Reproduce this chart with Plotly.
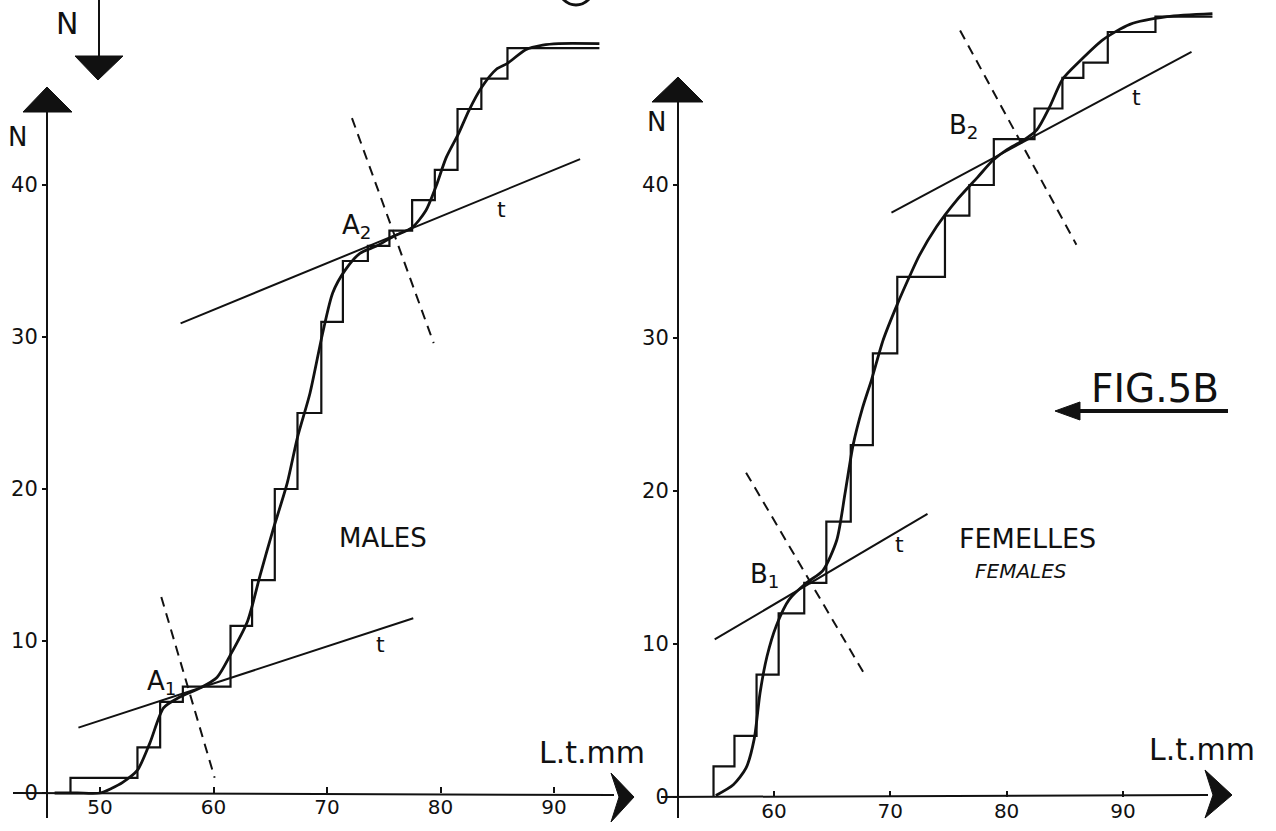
import plotly.graph_objects as go

# ---------------- data ----------------
# MALES: cumulative counts (step), x = total length (mm) where the count jumps
MALE_STEP_X = [47.4, 53.3, 55.3, 57.3, 61.5, 63.4, 65.4, 67.4, 69.5, 71.4, 73.6, 75.5, 77.5, 79.5, 81.5, 83.6, 85.9, 94.0]
MALE_STEP_N = [1, 3, 6, 7, 11, 14, 20, 25, 31, 35, 36, 37, 39, 41, 45, 47, 49, 49]
# MALES: fitted smooth curve
MALE_CURVE_X = [46.0, 48.0, 50.0, 51.0, 52.0, 53.3, 54.4, 55.6, 57.0, 58.8, 60.3, 61.5, 63.0, 64.1, 65.2, 66.5, 67.4,
                68.5, 69.6, 70.5, 71.6, 72.9, 74.4, 75.8, 77.5, 78.7, 79.6, 80.5, 81.6, 82.5, 83.6, 84.9, 85.9, 87.5,
                89.0, 90.4, 94.0]
MALE_CURVE_N = [0, 0, 0, 0.3, 0.7, 1.5, 3.3, 5.6, 6.3, 6.9, 7.6, 9.1, 11.3, 14.3, 17.2, 20.4, 23.4,
                26.3, 30.2, 32.9, 34.4, 35.5, 36.0, 36.6, 37.2, 38.3, 39.9, 41.8, 43.4, 44.9, 46.4, 47.6, 48.0, 48.9,
                49.2, 49.3, 49.3]
# MALES: tangents (t) and perpendiculars (dashed) at A1 and A2
TAN_A1_X, TAN_A1_N = [48.1, 77.6], [4.3, 11.5]
PERP_A1_X, PERP_A1_N = [55.4, 60.1], [12.9, 1.0]
TAN_A2_X, TAN_A2_N = [57.1, 92.3], [30.9, 41.7]
PERP_A2_X, PERP_A2_N = [72.2, 79.4], [44.4, 29.6]

# FEMELLES: cumulative counts (step)
FEMALE_STEP_X = [54.8, 56.6, 58.5, 60.4, 62.6, 64.5, 66.6, 68.5, 70.6, 74.7, 76.8, 78.9, 82.4, 84.8, 86.6, 88.7, 92.8, 97.7]
FEMALE_STEP_N = [2, 4, 8, 12, 14, 18, 23, 29, 34, 38, 40, 43, 45, 47, 48, 50, 51, 51]
# FEMELLES: fitted smooth curve
FEMALE_CURVE_X = [55.0, 56.5, 57.6, 58.3, 58.8, 59.4, 60.2, 61.3, 62.8, 64.2, 65.4, 66.1, 66.8, 67.6, 68.4, 69.4,
                  70.6, 71.7, 72.5, 74.0, 75.7, 77.5, 78.8, 80.0, 81.4, 82.6, 83.7, 84.8, 86.3, 88.3, 90.6, 93.8, 97.7]
FEMALE_CURVE_N = [0.1, 0.8, 1.9, 3.8, 6.8, 9.2, 11.2, 12.9, 14.0, 14.8, 16.8, 19.8, 23.0, 25.4, 27.3, 29.9,
                  32.2, 34.1, 35.4, 37.3, 39.0, 40.5, 41.6, 42.3, 42.9, 43.6, 45.1, 46.9, 48.1, 49.5, 50.5, 51.0, 51.2]
TAN_B1_X, TAN_B1_N = [54.9, 73.2], [10.3, 18.5]
PERP_B1_X, PERP_B1_N = [57.6, 67.8], [21.2, 8.0]
TAN_B2_X, TAN_B2_N = [70.1, 95.9], [38.2, 48.7]
PERP_B2_X, PERP_B2_N = [76.0, 86.0], [50.1, 36.1]

# axis ticks
X_TICKS_LEFT = [50, 60, 70, 80, 90]
X_TICKS_RIGHT = [60, 70, 80, 90]
Y_TICKS = [0, 10, 20, 30, 40]

# point labels (label, x, N)
LABELS_LEFT = [("A<sub>1</sub>", 55.4, 7.3), ("A<sub>2</sub>", 72.6, 37.3), ("t", 74.7, 9.8), ("t", 85.4, 38.4)]
LABELS_RIGHT = [("B<sub>1</sub>", 59.2, 14.5), ("B<sub>2</sub>", 76.3, 43.8), ("t", 70.8, 16.5), ("t", 91.2, 45.7)]

# ---------------- layout geometry (pixels of the 1276x831 page) ----------------
W, H = 1276, 831
# left panel calibration: px = LX0 + (mm-50)*LSX ; py = LY0 - N*LSY
LX0, LSX, LY0, LSY = 100.0, 11.35, 793.0, 15.2
# right panel calibration: px = RX0 + (mm-60)*RSX ; py = RY0 - N*RSY
RX0, RSX, RY0, RSY = 774.0, 11.63, 797.0, 15.3
SPLIT = 640.0

def P(x, y):
    return x / W, 1 - y / H

BLACK = "#111111"
FONT = "DejaVu Sans"

fig = go.Figure()

def add_panel(xa, ya, sx, sn, cx, cn, lines):
    fig.add_trace(go.Scatter(x=[sx[0]] + sx, y=[0] + sn, mode="lines", line=dict(color=BLACK, width=2.2, shape="hv"),
                             xaxis=xa, yaxis=ya, hoverinfo="skip"))
    fig.add_trace(go.Scatter(x=cx, y=cn, mode="lines", line=dict(color=BLACK, width=2.8, shape="spline", smoothing=0.7),
                             xaxis=xa, yaxis=ya, hoverinfo="skip"))
    for (lx, ly, dashed) in lines:
        fig.add_trace(go.Scatter(x=lx, y=ly, mode="lines",
                                 line=dict(color=BLACK, width=2, dash="10px,7px" if dashed else "solid"),
                                 xaxis=xa, yaxis=ya, hoverinfo="skip"))

add_panel("x", "y", MALE_STEP_X, MALE_STEP_N, MALE_CURVE_X, MALE_CURVE_N,
          [(TAN_A1_X, TAN_A1_N, False), (PERP_A1_X, PERP_A1_N, True),
           (TAN_A2_X, TAN_A2_N, False), (PERP_A2_X, PERP_A2_N, True)])
add_panel("x2", "y2", FEMALE_STEP_X, FEMALE_STEP_N, FEMALE_CURVE_X, FEMALE_CURVE_N,
          [(TAN_B1_X, TAN_B1_N, False), (PERP_B1_X, PERP_B1_N, True),
           (TAN_B2_X, TAN_B2_N, False), (PERP_B2_X, PERP_B2_N, True)])

tickfont = dict(family=FONT, size=21, color=BLACK)
common_x = dict(showgrid=False, zeroline=False, showline=False, ticks="inside", ticklen=6, tickwidth=2,
                tickcolor=BLACK, tickfont=dict(family=FONT, size=20, color=BLACK), anchor="free",
                fixedrange=True, automargin=False)
common_y = dict(showgrid=False, zeroline=False, showline=False, ticks="outside", ticklen=5, tickwidth=2,
                tickcolor=BLACK, tickfont=tickfont, anchor="free", tickvals=Y_TICKS, fixedrange=True,
                automargin=False)

fig.update_layout(
    template="none",
    width=W, height=H, margin=dict(l=0, r=0, t=0, b=0, pad=0), autosize=False,
    paper_bgcolor="white", plot_bgcolor="white", showlegend=False,
    xaxis=dict(domain=[0, SPLIT / W], range=[50 - LX0 / LSX, 50 + (SPLIT - LX0) / LSX],
               tickvals=X_TICKS_LEFT, position=1 - LY0 / H, **common_x),
    yaxis=dict(domain=[0, 1], range=[-(H - LY0) / LSY, LY0 / LSY], position=47 / W, **common_y),
    xaxis2=dict(domain=[SPLIT / W, 1], range=[60 - (RX0 - SPLIT) / RSX, 60 + (W - RX0) / RSX],
                tickvals=X_TICKS_RIGHT, position=1 - RY0 / H, **common_x),
    yaxis2=dict(domain=[0, 1], range=[-(H - RY0) / RSY, RY0 / RSY], position=678 / W, **common_y),
)

# ---------------- axis lines and arrowheads (page decorations) ----------------
shapes = []

def seg(x0, y0, x1, y1, w=2):
    a, b = P(x0, y0)
    c, d = P(x1, y1)
    shapes.append(dict(type="line", xref="paper", yref="paper", x0=a, y0=b, x1=c, y1=d,
                       line=dict(color=BLACK, width=w)))

def poly(pts):
    path = "M " + " L ".join("%.5f,%.5f" % P(x, y) for x, y in pts) + " Z"
    shapes.append(dict(type="path", xref="paper", yref="paper", path=path,
                       fillcolor=BLACK, line=dict(color=BLACK, width=1)))

# left axes
seg(13, 793, 614, 795)
seg(47, 112, 47, 818)
# right axes
seg(661, 797, 1208, 795)
seg(678, 102, 678, 818)
# arrowheads
poly([(23, 112), (47, 87), (72, 112)])
poly([(652, 102), (678, 77), (703, 102)])
poly([(611, 773), (634, 797), (611, 822), (619, 797)])
poly([(1205, 770), (1232, 795), (1205, 818), (1213, 795)])
# top-left down arrow
seg(99, 0, 99, 57)
poly([(75, 56), (123, 56), (98, 80)])
# FIG arrow
seg(1070, 411, 1228, 411, 4)
poly([(1055, 411), (1080, 402), (1080, 420)])
# cut circle at the top
a, b = P(559, -29)
c, d = P(593, 5)
shapes.append(dict(type="circle", xref="paper", yref="paper", x0=a, y0=b, x1=c, y1=d,
                   line=dict(color=BLACK, width=3)))
fig.update_layout(shapes=shapes)

# ---------------- text ----------------
ann = []

def ptext(txt, x, y, size, **kw):
    a, b = P(x, y)
    ann.append(dict(text=txt, x=a, y=b, xref="paper", yref="paper", showarrow=False,
                    font=dict(family=FONT, size=size, color=BLACK), xanchor="center", yanchor="middle", **kw))

ptext("N", 67, 24, 30)
ptext("N", 17, 137, 26)
ptext("N", 656, 122, 26)
ptext("L.t.mm", 592, 752, 30)
ptext("L.t.mm", 1202, 749, 30)
ptext("FIG.5B", 1155, 388, 39)

for (txt, x, n) in LABELS_LEFT:
    ann.append(dict(text=txt, x=x, y=n, xref="x", yref="y", showarrow=False,
                    font=dict(family=FONT, size=26 if txt != "t" else 22, color=BLACK)))
for (txt, x, n) in LABELS_RIGHT:
    ann.append(dict(text=txt, x=x, y=n, xref="x2", yref="y2", showarrow=False,
                    font=dict(family=FONT, size=26 if txt != "t" else 22, color=BLACK)))

ann.append(dict(text="MALES", x=74.9, y=16.8, xref="x", yref="y", showarrow=False,
                font=dict(family=FONT, size=26, color=BLACK)))
ann.append(dict(text="FEMELLES", x=81.8, y=16.9, xref="x2", yref="y2", showarrow=False,
                font=dict(family=FONT, size=27, color=BLACK)))
ann.append(dict(text="<i>FEMALES</i>", x=81.2, y=14.8, xref="x2", yref="y2", showarrow=False,
                font=dict(family=FONT, size=20, color=BLACK)))
fig.update_layout(annotations=ann)

# remove the browser's default 8px page margin so the figure sits at the window's top-left corner
fig.write_html("out.html", config={"displayModeBar": False},
               post_script="document.body.style.margin='0';document.body.style.padding='0';")
